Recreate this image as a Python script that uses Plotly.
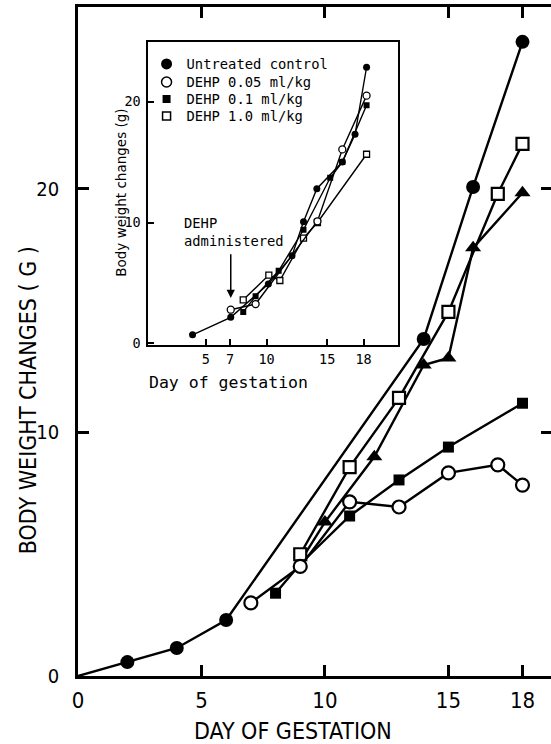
import plotly.graph_objects as go

# ---------------- main chart data (day of gestation, body weight change g) ----------------
ctrl_days = [0, 2, 4, 6, 14, 16, 18]
ctrl_vals = [0, 0.57, 1.15, 2.3, 13.84, 20.08, 26.04]
oc_days = [7, 9, 11, 13, 15, 17, 18]
oc_vals = [3.0, 4.5, 7.15, 6.94, 8.34, 8.67, 7.84]
fs_days = [8, 9, 11, 13, 15, 18]
fs_vals = [3.4, 4.6, 6.57, 8.05, 9.4, 11.2]
os_days = [9, 11, 13, 15, 17, 18]
os_vals = [5.0, 8.58, 11.42, 14.95, 19.8, 21.85]
tri_days = [9, 10, 12, 14, 15, 16, 18]
tri_vals = [4.7, 6.32, 9.0, 12.77, 13.06, 17.58, 19.84]

main_xticks = [0, 5, 10, 15, 18]
main_yticks = [0, 10, 20]

# ---------------- inset data ----------------
in_ctrl_days = [3.9, 7.05, 10.15, 12.1, 13.05, 14.15, 16.25, 17.3, 18.25]
in_ctrl_vals = [0.7, 2.15, 4.9, 7.25, 10.07, 12.8, 15.0, 17.3, 22.85]
in_oc_days = [7.05, 9.1, 14.2, 16.25, 18.25]
in_oc_vals = [2.78, 3.25, 10.1, 16.05, 20.5]
in_fs_days = [8.08, 9.1, 11.0, 13.05, 15.25, 16.25, 18.25]
in_fs_vals = [2.6, 3.9, 6.0, 9.4, 13.7, 15.0, 19.7]
in_os_days = [8.08, 10.19, 11.1, 13.05, 14.2, 18.25]
in_os_vals = [3.6, 5.65, 5.2, 8.7, 10.0, 15.65]

inset_xticks = [0, 5, 7, 10, 15, 18]
inset_yticks = [0, 10, 20]
legend_names = ["Untreated control", "DEHP 0.05 ml/kg", "DEHP 0.1 ml/kg", "DEHP 1.0 ml/kg"]
arrow_day = 7.05

NARROW = "Liberation Sans Narrow, DejaVu Sans Condensed, sans-serif"
MONO = "DejaVu Sans Mono, monospace"
SANS = "DejaVu Sans, sans-serif"
BLACK = "black"

fig = go.Figure()


def main_trace(days, vals, symbol, fill, size, hidden=()):
    sizes = [0 if d in hidden else size for d in days]
    fig.add_trace(go.Scatter(
        x=days, y=vals, mode="lines+markers", showlegend=False,
        line=dict(color=BLACK, width=2.4),
        marker=dict(symbol=symbol, size=sizes, color=fill, opacity=1,
                    line=dict(color=BLACK, width=2.2 if fill == "white" else 0)),
        xaxis="x", yaxis="y", cliponaxis=False))


main_trace(tri_days, tri_vals, "triangle-up", BLACK, 14, hidden=(9,))
main_trace(fs_days, fs_vals, "square", BLACK, 11, hidden=(9,))
main_trace(os_days, os_vals, "square", "white", 12)
main_trace(oc_days, oc_vals, "circle", "white", 13)
main_trace(ctrl_days, ctrl_vals, "circle", BLACK, 14, hidden=(0,))


def inset_trace(days, vals, symbol, fill, size):
    fig.add_trace(go.Scatter(
        x=days, y=vals, mode="lines+markers", showlegend=False,
        line=dict(color=BLACK, width=1.4),
        marker=dict(symbol=symbol, size=size, color=fill, opacity=1,
                    line=dict(color=BLACK, width=1.3 if fill == "white" else 0)),
        xaxis="x2", yaxis="y2"))


inset_trace(in_os_days, in_os_vals, "square", "white", 6)
inset_trace(in_fs_days, in_fs_vals, "square", BLACK, 6)
inset_trace(in_oc_days, in_oc_vals, "circle", "white", 7)
inset_trace(in_ctrl_days, in_ctrl_vals, "circle", BLACK, 7)

# pixel geometry of the figure (right frame edge falls just outside the 551 px window)
W, H = 555, 744
ML, MR, MT, MB = 78, 0, 7, 68
plot_w = W - ML - MR
plot_h = H - MT - MB


def px_x(px):
    return (px - ML) / plot_w


def px_y(py):
    return (H - MB - py) / plot_h


# legend-only entries for the inset, one small legend per row
leg_styles = [("circle", BLACK, 11), ("circle", "white", 10), ("square", BLACK, 8), ("square", "white", 8)]
leg_rows = [64, 82, 99, 116]
legend_layout = {}
for i, (name, (sym, fill, sz)) in enumerate(zip(legend_names, leg_styles)):
    key = "legend" if i == 0 else f"legend{i + 1}"
    fig.add_trace(go.Scatter(
        x=[None], y=[None], mode="markers", name=name, legend=key,
        marker=dict(symbol=sym, size=sz, color=fill,
                    line=dict(color=BLACK, width=1.5 if fill == "white" else 0)),
        xaxis="x2", yaxis="y2"))
    legend_layout[key] = dict(x=px_x(147), y=px_y(leg_rows[i]), xanchor="left", yanchor="middle",
                              bgcolor="rgba(0,0,0,0)", borderwidth=0,
                              font=dict(family=MONO, size=13.8, color=BLACK), itemsizing="trace")

fig.update_layout(
    width=W, height=H,
    margin=dict(l=ML, r=MR, t=MT, b=MB),
    paper_bgcolor="white", plot_bgcolor="white",
    xaxis=dict(range=[0, plot_w / 24.85], tickvals=main_xticks, ticks="inside", ticklen=11, tickwidth=2.5,
               tickcolor=BLACK, showline=True, linewidth=2.8, linecolor=BLACK, mirror="ticks",
               showgrid=False, zeroline=False, tickfont=dict(family=NARROW, size=22, color=BLACK),
               ticklabelstandoff=3),
    yaxis=dict(range=[0, 27.47], tickvals=main_yticks, ticks="inside", ticklen=11, tickwidth=2.5,
               tickcolor=BLACK, showline=True, linewidth=2.8, linecolor=BLACK, mirror="ticks",
               showgrid=False, zeroline=False, tickfont=dict(family=NARROW, size=20, color=BLACK),
               ticklabelstandoff=12),
    xaxis2=dict(domain=[px_x(148), px_x(400)], range=[0.19, 20.84], anchor="y2",
                tickvals=inset_xticks, ticks="inside", ticklen=6, tickwidth=1.8, tickcolor=BLACK,
                showline=True, linewidth=2.2, linecolor=BLACK, mirror=True,
                showgrid=False, zeroline=False, tickfont=dict(family=MONO, size=13.5, color=BLACK),
                ticklabelstandoff=1),
    yaxis2=dict(domain=[px_y(345), px_y(42)], range=[-0.14, 24.94], anchor="x2",
                tickvals=inset_yticks, ticks="inside", ticklen=6, tickwidth=1.8, tickcolor=BLACK,
                showline=True, linewidth=2.2, linecolor=BLACK, mirror=True,
                showgrid=False, zeroline=False, tickfont=dict(family=MONO, size=13.5, color=BLACK),
                ticklabelstandoff=2),
    showlegend=True,
    **legend_layout,
)

fig.add_annotation(text="BODY WEIGHT CHANGES ( G )", xref="paper", yref="paper",
                   x=px_x(28), y=px_y(400), xanchor="center", yanchor="middle",
                   textangle=-90, showarrow=False,
                   font=dict(family=NARROW, size=23, color=BLACK))
fig.add_annotation(text="DAY OF GESTATION", xref="paper", yref="paper",
                   x=px_x(294), y=px_y(731), xanchor="center", yanchor="middle", showarrow=False,
                   font=dict(family=NARROW, size=23, color=BLACK))
fig.add_annotation(text="Body weight changes (g)", xref="paper", yref="paper",
                   x=px_x(121), y=px_y(193), xanchor="center", yanchor="middle",
                   textangle=-90, showarrow=False,
                   font=dict(family=SANS, size=13.5, color=BLACK))
fig.add_annotation(text="Day of gestation", xref="paper", yref="paper",
                   x=px_x(147), y=px_y(382), xanchor="left", yanchor="middle", showarrow=False,
                   font=dict(family=MONO, size=16.5, color=BLACK))
fig.add_annotation(text="DEHP<br>administered", xref="x2", yref="y2",
                   x=3.06, y=9.25, xanchor="left", yanchor="middle", align="left", showarrow=False,
                   font=dict(family=MONO, size=13.8, color=BLACK))
fig.add_annotation(text="", xref="x2", yref="y2", x=arrow_day, y=3.75,
                   axref="x2", ayref="y2", ax=arrow_day, ay=7.5,
                   showarrow=True, arrowhead=2, arrowsize=1.1, arrowwidth=1.5, arrowcolor=BLACK)

fig.write_html("out.html", config={"displayModeBar": False},
               post_script="document.body.style.margin='0';document.body.style.overflow='hidden';")
